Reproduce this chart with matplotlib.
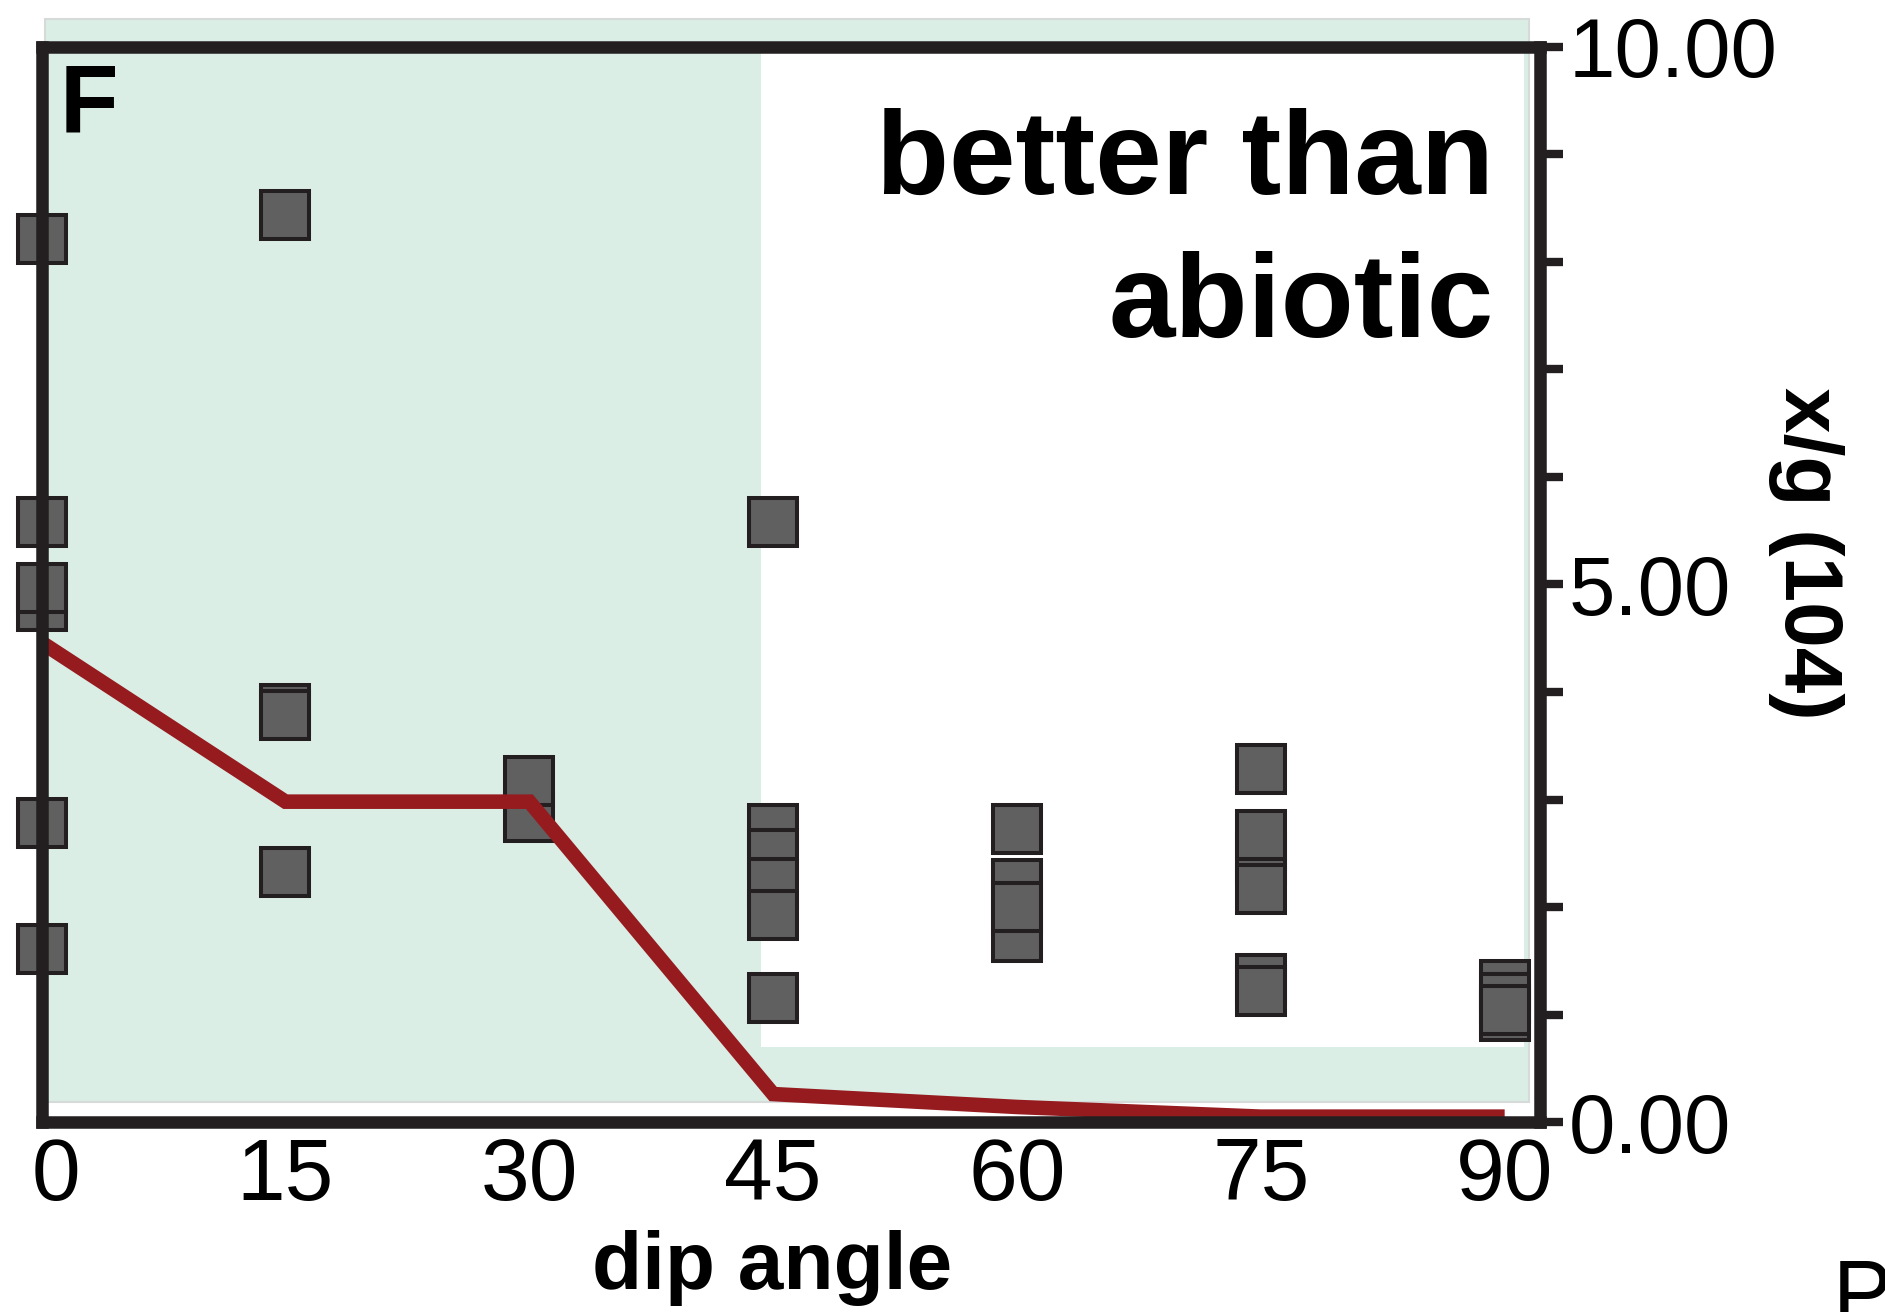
import matplotlib.pyplot as plt
from matplotlib.patches import Rectangle
from matplotlib.transforms import ScaledTranslation


# scatter points, in drawing order (later points sit on top)
dip_angles = [0, 0, 0, 0, 0, 0,
              15, 15, 15, 15,
              30, 30,
              45, 45, 45, 45, 45, 45,
              60, 60, 60, 60,
              75, 75, 75, 75, 75, 75,
              90, 90, 90, 90]
xg_values = [8.21, 5.58, 4.80, 4.97, 2.78, 1.61,
             8.44, 3.84, 3.79, 2.33,
             2.84, 3.17,
             5.58, 2.73, 2.49, 2.22, 1.93, 1.15,
             2.73, 2.21, 1.72, 2.00,
             3.28, 2.45, 2.67, 2.17, 1.33, 1.22,
             1.27, 1.15, 0.99, 1.04]

# red line
line_angles = [0, 15, 30, 45, 60, 75, 90]
line_values = [4.46, 2.98, 2.98, 0.26, 0.14, 0.05, 0.05]

x_ticks = [0, 15, 30, 45, 60, 75, 90]
y_ticks = list(range(11))
y_tick_labels = ['0.00', '', '', '', '', '5.00', '', '', '', '', '10.00']

dark = '#231f20'
green = '#dbeee6'
red = '#961b1f'

plt.rcParams['font.family'] = ['Liberation Sans', 'DejaVu Sans']

fig = plt.figure(figsize=(18.85, 13.12), dpi=100)
ax = fig.add_axes([0.0221, 0.1448, 0.7951, 0.8194])
ax.set_facecolor('none')
ax.set_xlim(0, 92.2)
ax.set_ylim(0, 10)

# shaded region and the white "better than abiotic" area
ax.add_patch(Rectangle((0.2, 0.19), 91.3, 10.07, facecolor=green,
                       edgecolor='#d6dbd9', lw=1.5, clip_on=False, zorder=0))
ax.add_patch(Rectangle((44.27, 0.70), 46.9, 9.3, facecolor='white',
                       edgecolor='none', zorder=0.5))

ax.plot(dip_angles, xg_values, 's', ms=34.5, mfc='#606060', mec=dark,
        mew=2.9, clip_on=False, zorder=2)
ax.plot(line_angles, line_values, color=red, lw=10.5,
        solid_joinstyle='miter', solid_capstyle='butt', zorder=3)

for spine in ax.spines.values():
    spine.set_linewidth(9)
    spine.set_color(dark)
    spine.set_zorder(5)
    spine.set_capstyle('projecting')

ax.set_xticks(x_ticks)
ax.set_xticklabels([str(t) for t in x_ticks])
ax.set_yticks(y_ticks)
ax.set_yticklabels(y_tick_labels)
ax.tick_params(axis='x', length=0, pad=11, labelsize=63)
ax.tick_params(axis='y', left=False, right=True, labelleft=False,
               labelright=True, length=16.5, width=6, color=dark,
               pad=4, labelsize=60)

# the "0" label sits a little right of its tick
first = ax.xaxis.get_major_ticks()[0].label1
first.set_transform(first.get_transform()
                    + ScaledTranslation(0.14, 0, fig.dpi_scale_trans))

fig.text(60 / 1885, 1 - 62 / 1312, 'F', ha='left', va='top',
         fontsize=69, fontweight='bold')
fig.text(1494 / 1885, 1 - 108 / 1312, 'better than\nabiotic', ha='right',
         va='top', multialignment='right', fontsize=86, fontweight='bold',
         linespacing=1.37)
fig.text(772 / 1885, 1 - 1268 / 1312, 'dip angle', ha='center', va='center',
         fontsize=59, fontweight='bold')
fig.text(1806 / 1885, 1 - 553 / 1312, 'x/g (104)', rotation=270,
         ha='center', va='center', fontsize=59, fontweight='bold')
fig.text(1833 / 1885, 1 - 1258 / 1312, 'P', ha='left', va='top', fontsize=64)

fig.savefig('out.png', dpi=100)
